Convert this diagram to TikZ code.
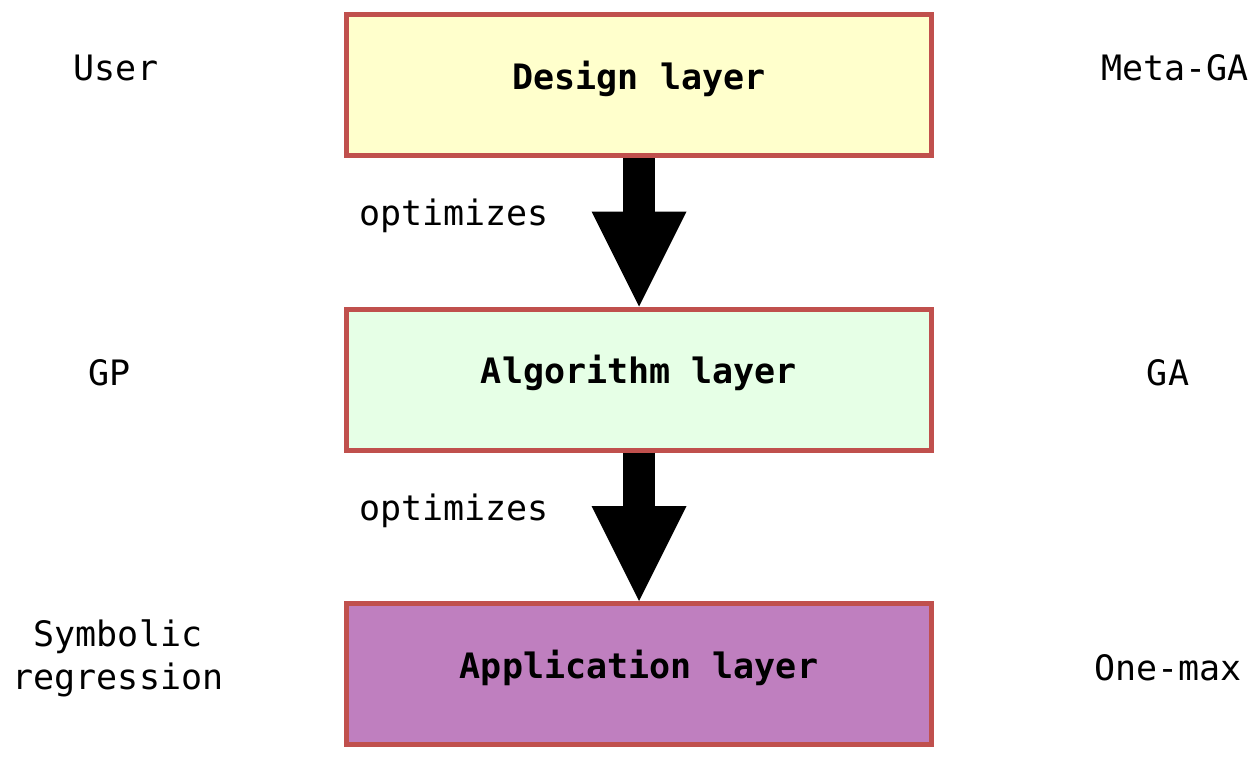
\documentclass[tikz,border=0pt]{standalone}
\usepackage{fontspec}
\setmonofont{DejaVu Sans Mono}
\usetikzlibrary{arrows.meta}
\definecolor{bordred}{HTML}{C0504D}
\definecolor{yel}{HTML}{FFFFCC}
\definecolor{grn}{HTML}{E6FFE6}
\definecolor{pur}{HTML}{BF7FBF}
\tikzset{
  layer/.style={draw=bordred, line width=2.5pt, minimum width=292.5pt, minimum height=70.5pt, inner sep=0pt, text height=4pt, text depth=0pt, font=\ttfamily\bfseries\fontsize{17.5}{21}\selectfont},
  lbl/.style={font=\ttfamily\fontsize{17.5}{21.5}\selectfont, inner sep=0pt, align=center},
  bigarrow/.style={line width=16pt, -{Triangle[width=47.5pt,length=47.5pt,line width=0pt]}}
}
\begin{document}
\begin{tikzpicture}[x=0.5pt,y=-0.5pt]
\useasboundingbox (0,0) rectangle (1260,761);
\node[layer, fill=yel] (d) at (639,85) {Design layer};
\node[layer, fill=grn] (a) at (639,379.5) {Algorithm layer};
\node[layer, fill=pur] (p) at (639,674) {Application layer};
\draw[bigarrow] (d.south) -- (a.north);
\draw[bigarrow] (a.south) -- (p.north);
\node[lbl] (o1) at (454,216) {optimizes};
\node[lbl] (o2) at (454,511) {optimizes};
\node[lbl] (u) at (116,68) {User};
\node[lbl] (m) at (1175,68) {Meta-GA};
\node[lbl] (gp) at (110,373) {GP};
\node[lbl] (ga) at (1168,373) {GA};
\node[lbl] (sr) at (118,658) {Symbolic\\regression};
\node[lbl] (om) at (1168,668) {One-max};
\end{tikzpicture}
\end{document}
